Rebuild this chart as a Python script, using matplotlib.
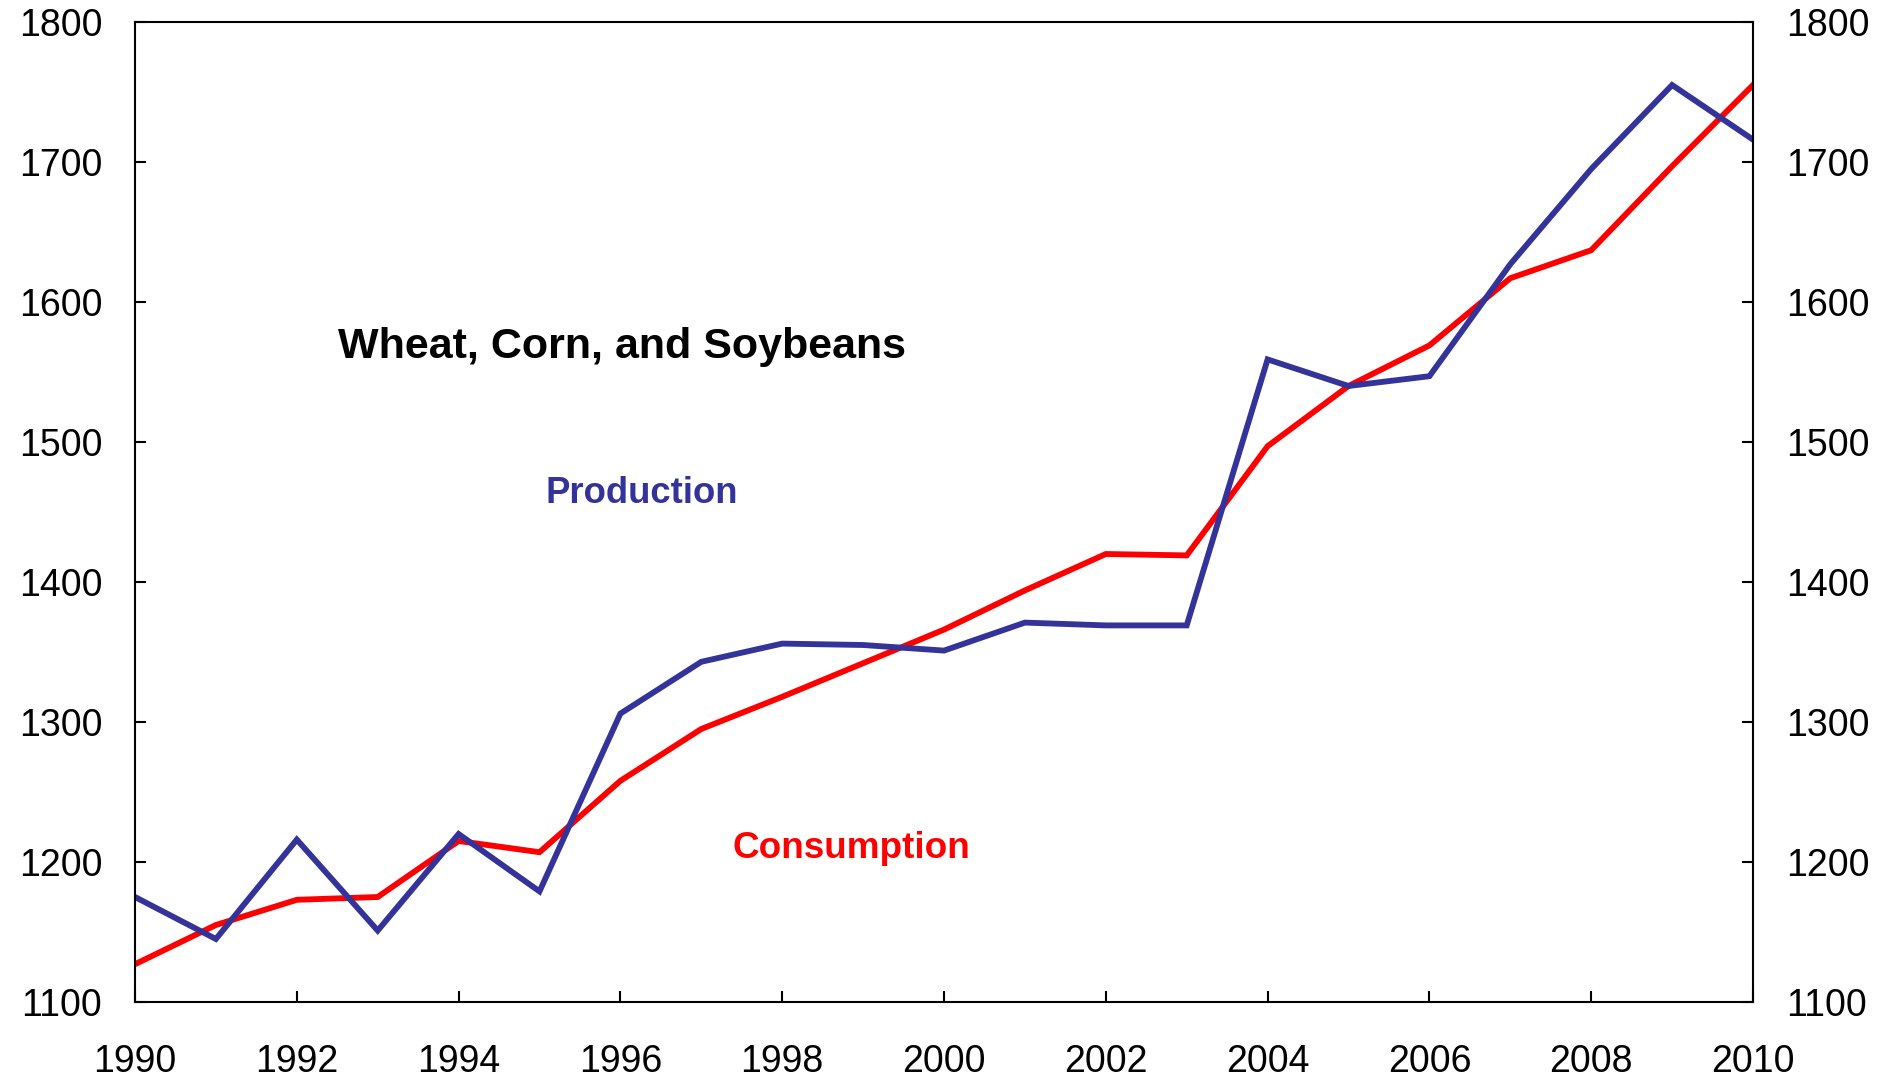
import matplotlib
matplotlib.use("Agg")
import matplotlib.pyplot as plt

years = list(range(1990, 2011))
production = [1175, 1145, 1216, 1151, 1220, 1179, 1306, 1343, 1356, 1355, 1351,
              1371, 1369, 1369, 1559, 1540, 1547, 1627, 1695, 1755, 1716]
consumption = [1127, 1155, 1173, 1175, 1215, 1207, 1258, 1295, 1318, 1342, 1366,
               1394, 1420, 1419, 1497, 1540, 1569, 1617, 1637, 1697, 1755]
xticks = list(range(1990, 2011, 2))
yticks = [1100, 1200, 1300, 1400, 1500, 1600, 1700, 1800]

plt.rcParams['font.family'] = ['Liberation Sans', 'DejaVu Sans']

fig = plt.figure(figsize=(18.81, 10.77), dpi=100)
ax = fig.add_axes([0.07177, 0.06964, 0.86018, 0.90993])

blue = '#333399'
red = '#FF0000'
ax.plot(years, consumption, color=red, lw=4.2, solid_joinstyle='miter')
ax.plot(years, production, color=blue, lw=4.2, solid_joinstyle='miter')

ax.set_xlim(1990, 2010)
ax.set_ylim(1100, 1800)
ax.set_xticks(xticks)
ax.set_yticks(yticks)
ax.tick_params(axis='both', direction='in', length=8, width=1.5, labelsize=27,
               colors='black')
ax.tick_params(axis='x', pad=30)
ax.tick_params(axis='y', pad=23.5, right=True, labelright=True)
for s in ax.spines.values():
    s.set_linewidth(1.5)

ax.text(1992.51, 1560, 'Wheat, Corn, and Soybeans', fontsize=31, fontweight='bold',
        color='black', ha='left', va='baseline')
ax.text(1995.08, 1456.4, 'Production', fontsize=26.3, fontweight='bold', color=blue,
        ha='left', va='baseline')
ax.text(1997.38, 1203, 'Consumption', fontsize=26.6, fontweight='bold', color=red,
        ha='left', va='baseline')

fig.savefig('out.png', dpi=100)
